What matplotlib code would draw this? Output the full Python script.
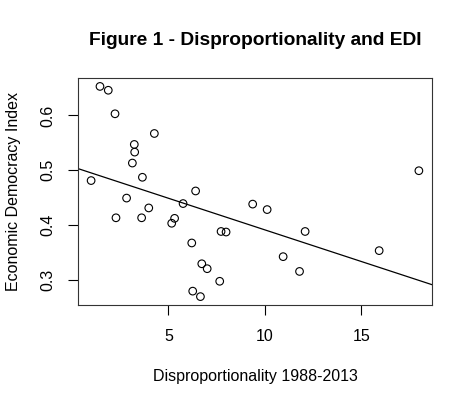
import numpy as np
import matplotlib
matplotlib.use('Agg')
import matplotlib.pyplot as plt

plt.rcParams['font.family'] = ['Liberation Sans', 'DejaVu Sans']

# disproportionality (x) and economic democracy index (y)
dispro = [1.45, 1.88, 2.23, 4.27, 3.23, 3.25, 3.13, 3.65, 0.99, 6.41,
          2.83, 5.76, 9.37, 10.12, 3.98, 2.28, 3.61, 5.32, 5.17, 7.73,
          7.99, 6.21, 6.73, 7.01, 7.66, 6.26, 6.66, 17.99, 12.09, 10.95,
          11.80, 15.93]
edi = [0.653, 0.646, 0.603, 0.567, 0.547, 0.533, 0.513, 0.487, 0.481, 0.462,
       0.449, 0.439, 0.438, 0.428, 0.431, 0.413, 0.413, 0.412, 0.403, 0.388,
       0.387, 0.367, 0.329, 0.320, 0.297, 0.279, 0.269, 0.499, 0.388, 0.342,
       0.315, 0.353]

xticks = [5, 10, 15]
yticks = [0.3, 0.4, 0.5, 0.6]

x = np.array(dispro)
y = np.array(edi)

fig = plt.figure(figsize=(4.73, 4.04), dpi=100)
ax = fig.add_axes([0.1649, 0.245, 0.7484, 0.5619])

ax.scatter(x, y, s=30, facecolors='none', edgecolors='black', linewidths=0.8, zorder=3)

# R-style 4% padding on both axes
xr = x.max() - x.min()
yr = y.max() - y.min()
ax.set_xlim(x.min() - 0.04 * xr, x.max() + 0.04 * xr)
ax.set_ylim(y.min() - 0.04 * yr, y.max() + 0.04 * yr)

# least squares line across the whole panel, like abline(lm(...))
slope, icpt = np.polyfit(x, y, 1)
xl = np.array(ax.get_xlim())
ax.plot(xl, icpt + slope * xl, color='black', lw=0.9, zorder=2)

ax.set_xticks(xticks)
ax.set_yticks(yticks)
ax.set_xticklabels([str(t) for t in xticks])
ax.set_yticklabels(['%.1f' % t for t in yticks], rotation=90, va='center')
ax.tick_params(direction='out', length=7, width=0.8, labelsize=11.5)
ax.tick_params(axis='x', pad=10)
ax.tick_params(axis='y', pad=9)

for s in ax.spines.values():
    s.set_linewidth(0.8)
    s.set_color('#333333')

ax.set_xlabel('Disproportionality 1988-2013', fontsize=11.5, labelpad=18)
ax.set_ylabel('Economic Democracy Index', fontsize=11.5, labelpad=14)
fig.text(0.539, 0.90, 'Figure 1 - Disproportionality and EDI', ha='center', va='center',
         fontsize=13.8, fontweight='bold')

fig.savefig('out.png', dpi=100)
